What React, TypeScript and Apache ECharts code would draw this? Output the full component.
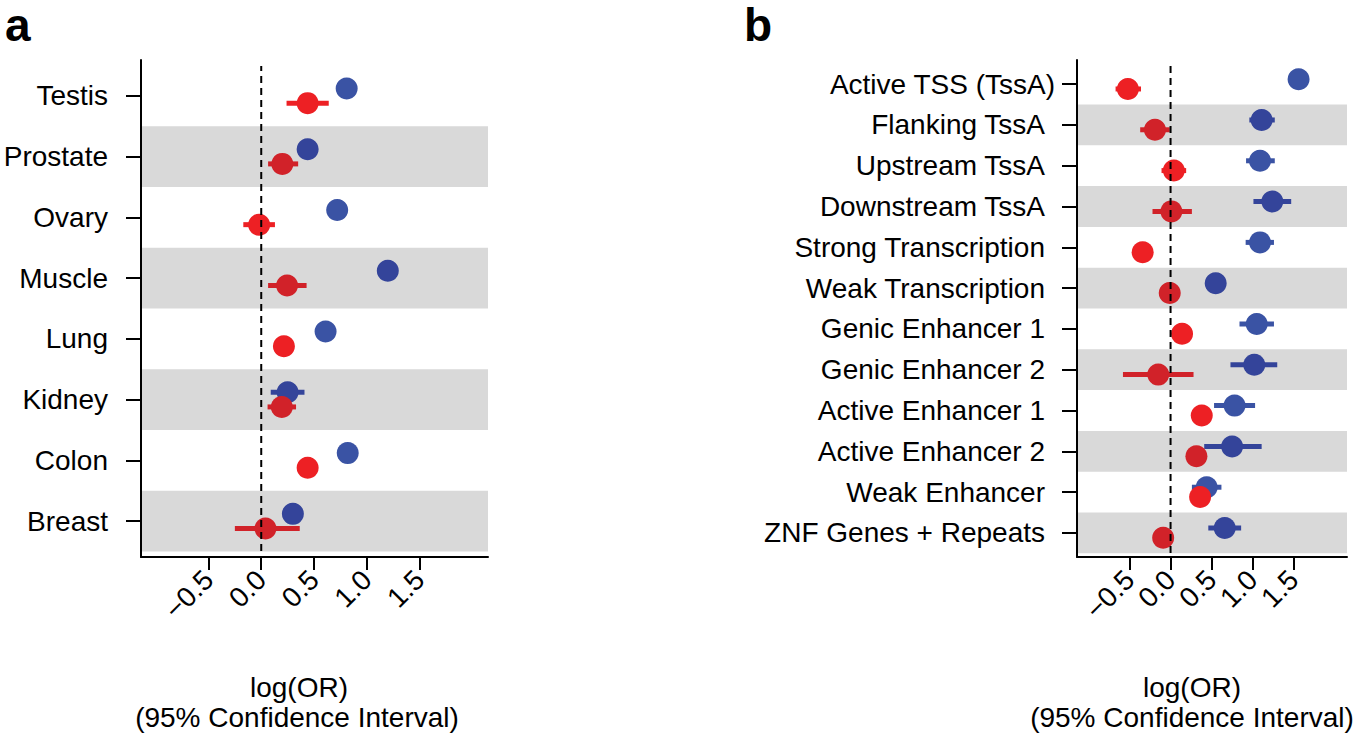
import React, { useEffect, useRef } from "react";
import * as echarts from "echarts";

// ---------- DATA ----------
const tissues = ["Testis", "Prostate", "Ovary", "Muscle", "Lung", "Kidney", "Colon", "Breast"];
const tissueBlue = [0.81, 0.44, 0.72, 1.2, 0.61, 0.25, 0.82, 0.3];
const tissueBlueLo = [0.77, 0.4, 0.68, 1.16, 0.57, 0.09, 0.78, 0.25];
const tissueBlueHi = [0.85, 0.48, 0.76, 1.24, 0.65, 0.41, 0.86, 0.35];
const tissueRed = [0.44, 0.2, -0.02, 0.245, 0.215, 0.195, 0.44, 0.04];
const tissueRedLo = [0.24, 0.065, -0.17, 0.065, 0.18, 0.06, 0.4, -0.25];
const tissueRedHi = [0.64, 0.35, 0.13, 0.43, 0.25, 0.33, 0.48, 0.365];

const states = [
  "Active TSS (TssA)",
  "Flanking TssA",
  "Upstream TssA",
  "Downstream TssA",
  "Strong Transcription",
  "Weak Transcription",
  "Genic Enhancer 1",
  "Genic Enhancer 2",
  "Active Enhancer 1",
  "Active Enhancer 2",
  "Weak Enhancer",
  "ZNF Genes + Repeats",
];
const stateBlue = [1.56, 1.11, 1.09, 1.24, 1.09, 0.55, 1.05, 1.02, 0.78, 0.75, 0.44, 0.66];
const stateBlueLo = [1.5, 0.96, 0.92, 1.01, 0.915, 0.5, 0.84, 0.73, 0.53, 0.41, 0.26, 0.46];
const stateBlueHi = [1.62, 1.27, 1.27, 1.47, 1.26, 0.6, 1.26, 1.3, 1.03, 1.11, 0.62, 0.86];
const stateRed = [-0.52, -0.19, 0.04, 0.01, -0.34, -0.01, 0.14, -0.15, 0.38, 0.315, 0.36, -0.09];
const stateRedLo = [-0.67, -0.37, -0.11, -0.22, -0.38, -0.05, 0.1, -0.58, 0.34, 0.27, 0.32, -0.13];
const stateRedHi = [-0.36, -0.01, 0.19, 0.26, -0.3, 0.03, 0.18, 0.28, 0.42, 0.36, 0.4, -0.05];

const xTicks = [-0.5, 0, 0.5, 1, 1.5];
const xTickLabels = ["\u22120.5", "0.0", "0.5", "1.0", "1.5"];
const xTitle1 = "log(OR)";
const xTitle2 = "(95% Confidence Interval)";

// ---------- STYLE ----------
const FONT = "'Liberation Sans', Arial, Helvetica, sans-serif";
const FS = 28;
const RED = "#ed2024";
const RED_D = "#d12229";
const BLUE = "#3a53a4";
const BLUE_D = "#34449a";
const BAND = "#d9d9d9";
const X_MIN = -1.14;
const X_MAX = 2.15;
const OFF = 0.12;

function buildPanel(
  idx: number,
  cats: string[],
  blue: number[],
  blueLo: number[],
  blueHi: number[],
  red: number[],
  redLo: number[],
  redHi: number[],
  grid: any,
  labelMargin: number,
  padNonFirst: number
) {
  const n = cats.length;
  const yMin = 0.41;
  const yMax = n + 0.59;
  const yOf = (i: number) => n - i;
  const onBand = (i: number) => i % 2 === 1;
  const catTicks = cats.map((_, i) => yOf(i));

  const xAxis = {
    type: "value",
    gridIndex: idx,
    min: X_MIN,
    max: X_MAX,
    axisLine: { show: true, onZero: false, lineStyle: { color: "#000", width: 2 } },
    axisTick: { show: true, customValues: xTicks, length: 13, lineStyle: { color: "#000", width: 2 } },
    axisLabel: {
      customValues: xTicks,
      rotate: 45,
      margin: 18,
      fontSize: FS,
      fontFamily: FONT,
      color: "#000",
      formatter: (v: number) => {
        const k = xTicks.findIndex((t) => Math.abs(t - v) < 1e-9);
        return k >= 0 ? xTickLabels[k] : "";
      },
    },
    splitLine: { show: false },
  };

  const yAxis = {
    type: "value",
    gridIndex: idx,
    min: yMin,
    max: yMax,
    axisLine: { show: true, onZero: false, lineStyle: { color: "#000", width: 2 } },
    axisTick: { show: true, customValues: catTicks, length: 15, lineStyle: { color: "#000", width: 2 } },
    axisLabel: {
      customValues: catTicks,
      margin: labelMargin,
      fontSize: FS,
      fontFamily: FONT,
      color: "#000",
      formatter: (v: number) => {
        const i = Math.round(n - v);
        const t = cats[i] ?? "";
        return i === 0 ? `{a|${t}}` : `{b|${t}}`;
      },
      rich: {
        a: { fontSize: FS, fontFamily: FONT, color: "#000" },
        b: { fontSize: FS, fontFamily: FONT, color: "#000", padding: [0, padNonFirst, 0, 0] },
      },
    },
    splitLine: { show: false },
  };

  const bandData = cats.map((_, i) => i).filter(onBand).map((i) => [X_MIN, yOf(i)]);

  const series: any[] = [];
  series.push({
    type: "custom",
    xAxisIndex: idx,
    yAxisIndex: idx,
    silent: true,
    z: 1,
    encode: { x: 0, y: 1 },
    data: bandData,
    renderItem: (params: any, api: any) => {
      const y = api.value(1);
      const p1 = api.coord([X_MIN, y + 0.5]);
      const p2 = api.coord([X_MAX, y - 0.5]);
      return {
        type: "rect",
        shape: { x: p1[0] + 1, y: p1[1], width: p2[0] - p1[0] - 1, height: p2[1] - p1[1] },
        style: { fill: BAND },
      };
    },
  });

  const ciSeries = (lo: number[], hi: number[], off: number, light: string, dark: string, z: number) => ({
    type: "custom",
    xAxisIndex: idx,
    yAxisIndex: idx,
    silent: true,
    z,
    encode: { x: [0, 1], y: 2 },
    data: lo.map((l, i) => [l, hi[i], yOf(i) + off, onBand(i) ? 1 : 0]),
    renderItem: (params: any, api: any) => {
      const a = api.coord([api.value(0), api.value(2)]);
      const b = api.coord([api.value(1), api.value(2)]);
      return {
        type: "line",
        shape: { x1: a[0], y1: a[1], x2: b[0], y2: a[1] },
        style: { stroke: api.value(3) ? dark : light, lineWidth: 5 },
      };
    },
  });

  const ptSeries = (vals: number[], off: number, light: string, dark: string, z: number) => ({
    type: "scatter",
    xAxisIndex: idx,
    yAxisIndex: idx,
    silent: true,
    z,
    symbol: "circle",
    symbolSize: 22,
    data: vals.map((v, i) => ({
      value: [v, yOf(i) + off],
      itemStyle: { color: onBand(i) ? dark : light, opacity: 1 },
    })),
  });

  series.push(ciSeries(blueLo, blueHi, OFF, BLUE, BLUE_D, 2));
  series.push(ptSeries(blue, OFF, BLUE, BLUE_D, 3));
  series.push(ciSeries(redLo, redHi, -OFF, RED, RED_D, 4));
  series.push(ptSeries(red, -OFF, RED, RED_D, 5));
  series.push({
    type: "line",
    xAxisIndex: idx,
    yAxisIndex: idx,
    silent: true,
    z: 6,
    symbol: "none",
    data: [
      [0, yMin + 0.1],
      [0, yMax - 0.1],
    ],
    lineStyle: { color: "#000", width: 2, type: [7, 5] },
  });

  return { grid: { ...grid }, xAxis, yAxis, series };
}

export default function App() {
  const ref = useRef<HTMLDivElement>(null);

  useEffect(() => {
    if (!ref.current) return;
    const chart = echarts.init(ref.current, undefined, { renderer: "svg" });

    const pa = buildPanel(
      0,
      tissues,
      tissueBlue,
      tissueBlueLo,
      tissueBlueHi,
      tissueRed,
      tissueRedLo,
      tissueRedHi,
      { left: 141, top: 60, width: 347, height: 497 },
      33,
      0
    );
    const pb = buildPanel(
      1,
      states,
      stateBlue,
      stateBlueLo,
      stateBlueHi,
      stateRed,
      stateRedLo,
      stateRedHi,
      { left: 1077, top: 60, width: 270, height: 497 },
      22,
      10
    );

    const titleText = (x: number, y: number, text: string) => ({
      type: "text",
      x,
      y,
      silent: true,
      style: {
        text,
        fontSize: FS,
        fontFamily: FONT,
        fill: "#000",
        align: "center",
        verticalAlign: "middle",
      },
    });

    chart.setOption({
      animation: false,
      backgroundColor: "#fff",
      grid: [pa.grid, pb.grid],
      xAxis: [pa.xAxis, pb.xAxis],
      yAxis: [pa.yAxis, pb.yAxis],
      series: [...pa.series, ...pb.series],
      graphic: [
        {
          type: "text",
          x: 5,
          y: 25,
          silent: true,
          style: {
            text: "a",
            fontSize: 46,
            lineHeight: 38,
            fontWeight: "bold",
            fontFamily: FONT,
            fill: "#000",
            verticalAlign: "middle",
          },
        },
        {
          type: "text",
          x: 744,
          y: 25,
          silent: true,
          style: {
            text: "b",
            fontSize: 46,
            lineHeight: 38,
            fontWeight: "bold",
            fontFamily: FONT,
            fill: "#000",
            verticalAlign: "middle",
          },
        },
        titleText(299, 687, xTitle1),
        titleText(297, 717, xTitle2),
        titleText(1192, 687, xTitle1),
        titleText(1192, 717, xTitle2),
      ],
    });

    return () => chart.dispose();
  }, []);

  return (
    <div
      ref={ref}
      style={{ position: "fixed", left: 0, top: 0, width: 1360, height: 733, background: "#fff" }}
    />
  );
}
